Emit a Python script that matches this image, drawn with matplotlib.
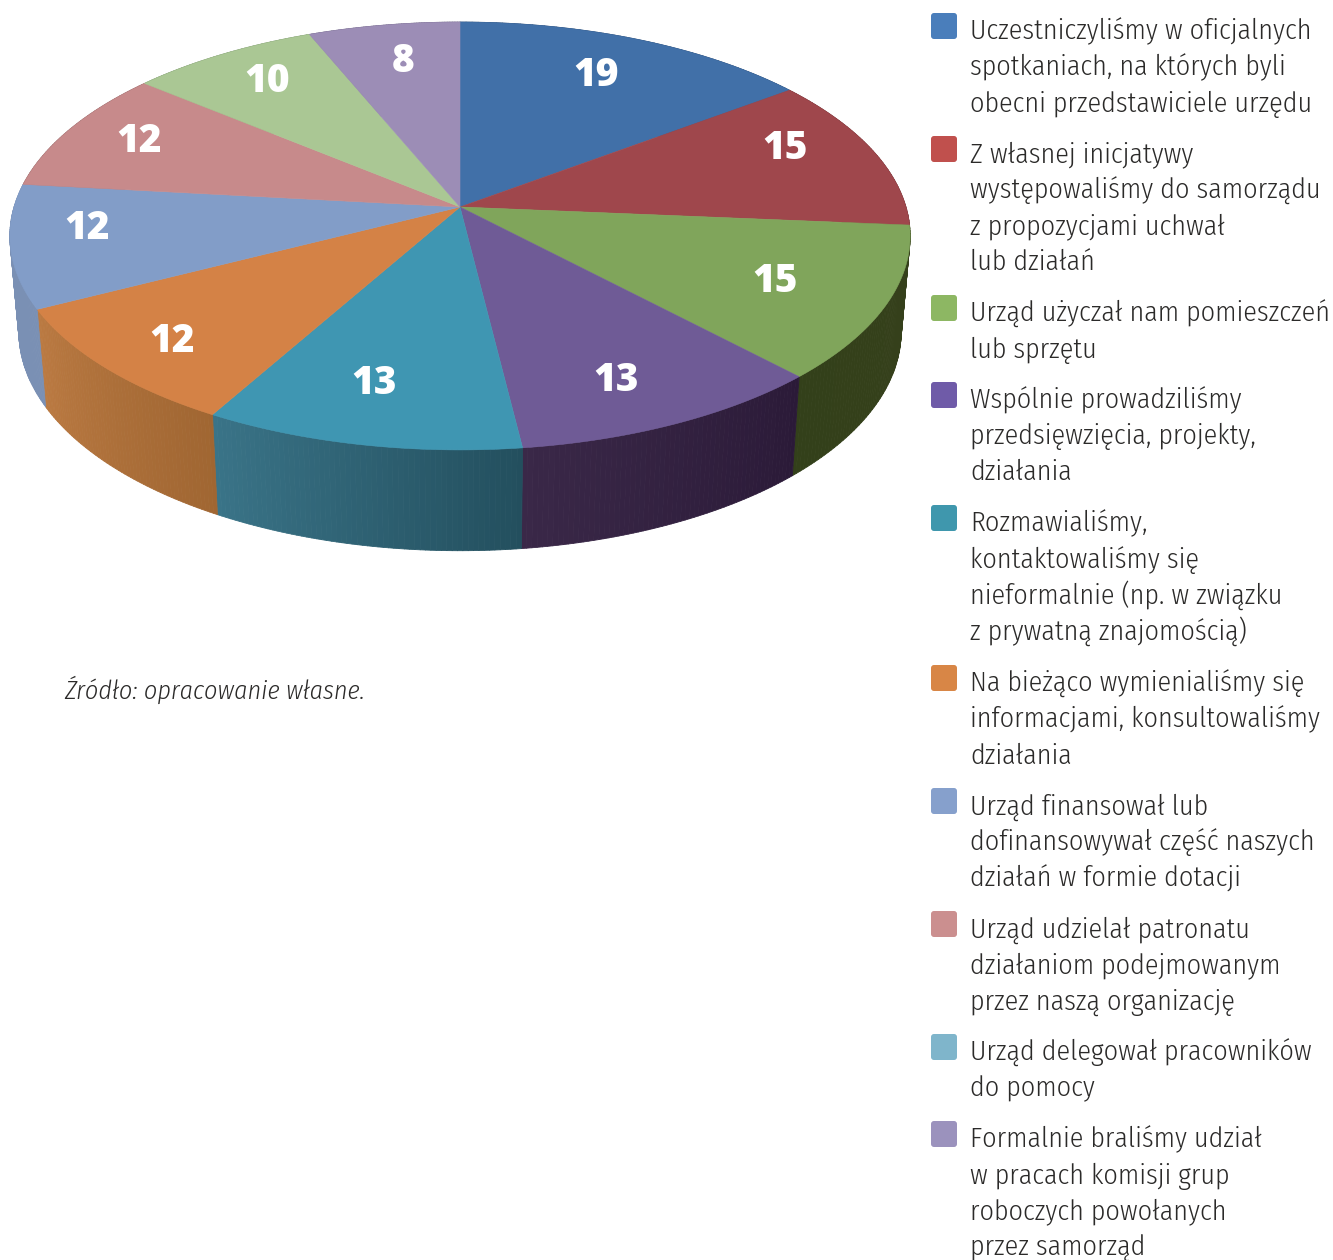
import numpy as np
import matplotlib
matplotlib.use("Agg")
import logging
logging.getLogger("matplotlib.font_manager").setLevel(logging.ERROR)
import matplotlib.pyplot as plt
from matplotlib.collections import PolyCollection
from matplotlib.colors import to_rgb
from matplotlib.patches import FancyBboxPatch

# ---- data ----
slice_values = [19, 15, 15, 13, 13, 12, 12, 12, 10, 8]
slice_colors = ["#4170a8", "#9f474c", "#80a55b", "#6f5b96", "#3f96b2",
                "#d48246", "#829dc8", "#c78a8b", "#aac794", "#9c8db6"]
side_start = ["#2d4a70", "#6a3033", "#36401b", "#2b1a38", "#234f5e",
              "#a06632", "#7a90b4", "#8a6060", "#75906a", "#6a6080"]
side_end = ["#2d4a70", "#6a3033", "#33401a", "#3a2848", "#3a7488",
            "#bb7a42", "#7a90b4", "#8a6060", "#75906a", "#6a6080"]
legend_colors = ["#4a7ebb", "#c0504d", "#8db763", "#6f5ba8", "#3f97ad",
                 "#d88646", "#86a0cc", "#cb8f8f", "#7fb5cb", "#9b92bd"]
legend_labels = [
    ["Uczestniczyliśmy w oficjalnych", "spotkaniach, na których byli", "obecni przedstawiciele urzędu"],
    ["Z własnej inicjatywy", "występowaliśmy do samorządu", "z propozycjami uchwał", "lub działań"],
    ["Urząd użyczał nam pomieszczeń", "lub sprzętu"],
    ["Wspólnie prowadziliśmy", "przedsięwzięcia, projekty,", "działania"],
    ["Rozmawialiśmy,", "kontaktowaliśmy się", "nieformalnie (np. w związku", "z prywatną znajomością)"],
    ["Na bieżąco wymienialiśmy się", "informacjami, konsultowaliśmy", "działania"],
    ["Urząd finansował lub", "dofinansowywał część naszych", "działań w formie dotacji"],
    ["Urząd udzielał patronatu", "działaniom podejmowanym", "przez naszą organizację"],
    ["Urząd delegował pracowników", "do pomocy"],
    ["Formalnie braliśmy udział", "w pracach komisji grup", "roboczych powołanych", "przez samorząd"],
]
source_text = "Źródło: opracowanie własne."

# ---- layout (pixels) ----
W, H = 1333, 1260
legend_tops = [30, 153, 312, 399, 522, 682, 805, 928, 1051, 1138]
label_xy = [(596, 71), (785, 144), (775, 277), (616, 376), (374, 379),
            (172, 337), (87, 224), (139, 137), (267, 77), (403, 57)]
CX, CY, A, B, K = 460, 207, 446, 210, 0.1355
BOT_SX, BOT_B, BOT_CY = 0.98, 215, 302

plt.rcParams["font.family"] = ["Fira Sans Condensed", "Lato", "DejaVu Sans"]
fig = plt.figure(figsize=(W / 100, H / 100), dpi=100, facecolor="white")
ax = fig.add_axes([0, 0, 1, 1])
ax.set_xlim(0, W)
ax.set_ylim(H, 0)
ax.axis("off")


def project(theta, sx=1.0, b=B, cy=CY):
    x, y = np.sin(theta), np.cos(theta)
    w = 1 + K * y
    return CX + sx * A * x / w, cy - b * y / w


edges = np.cumsum([0] + slice_values) / sum(slice_values) * 2 * np.pi

# side walls
for i in range(len(slice_values)):
    t = np.linspace(edges[i], edges[i + 1], 61)
    xt, yt = project(t)
    xb, yb = project(t, BOT_SX, BOT_B, BOT_CY)
    quads, cols = [], []
    c0, c1 = np.array(to_rgb(side_start[i])), np.array(to_rgb(side_end[i]))
    for j in range(60):
        quads.append([(xt[j], yt[j]), (xt[j + 1], yt[j + 1]), (xb[j + 1], yb[j + 1]), (xb[j], yb[j])])
        cols.append(c0 + (c1 - c0) * (j + 0.5) / 60)
    ax.add_collection(PolyCollection(quads, facecolors=cols, edgecolors=cols, linewidths=0.6, zorder=1))

# top face
for i, col in enumerate(slice_colors):
    t = np.linspace(edges[i], edges[i + 1], 121)
    xt, yt = project(t)
    ax.fill(np.r_[CX, xt], np.r_[CY, yt], facecolor=col, edgecolor=col, linewidth=0.4, zorder=2)

# value labels
for v, (lx, ly) in zip(slice_values, label_xy):
    ax.text(lx, ly, str(v), color="white", family=["Fira Sans Semi Condensed", "Open Sans"], weight=800,
            fontsize=28, ha="center", va="center_baseline", zorder=3)

# legend
for col, lines, top in zip(legend_colors, legend_labels, legend_tops):
    ax.add_patch(FancyBboxPatch((931, top - 17), 26, 26, boxstyle="round,pad=0,rounding_size=3",
                                facecolor=col, edgecolor="none", zorder=3))
    for n, line in enumerate(lines):
        ax.text(970, top + 9.5 + 36 * n, line, color="#2b2a29", fontsize=20.1, weight=300,
                ha="left", va="baseline")

ax.text(64, 699, source_text, color="#2b2a29", fontsize=18.8, weight=300, style="italic", ha="left", va="baseline")

fig.savefig("out.png", dpi=100, facecolor="white")
